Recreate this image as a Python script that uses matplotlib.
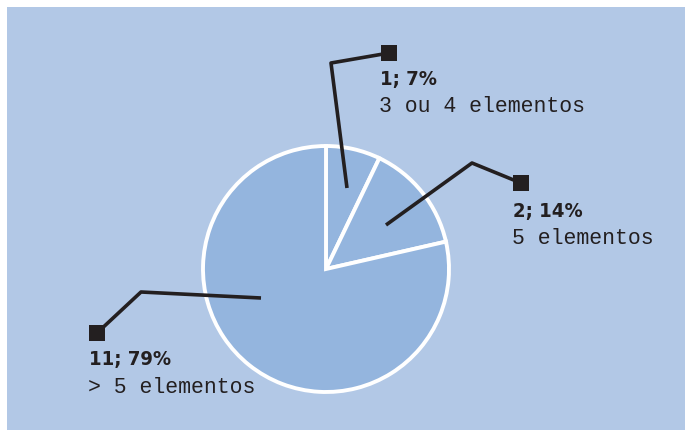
import matplotlib.pyplot as plt
from matplotlib.patches import Rectangle

# Quantidade de produtos por número de elementos
counts = [1, 2, 11]
percents = [7, 14, 79]
descriptions = ['3 ou 4 elementos', '5 elementos', '> 5 elementos']

W, H = 685, 431
bg = '#b2c8e6'
pie_color = '#94b5de'
ink = '#231f20'

fig = plt.figure(figsize=(W / 100, H / 100), dpi=100)
fig.patch.set_facecolor('white')
ax = fig.add_axes([0, 0, 1, 1])


def py(y):
    # pixel row -> data y
    return H - y


ax.add_patch(Rectangle((7, 0), W - 7, H - 8, facecolor=bg, edgecolor='none', zorder=0))

ax.pie(counts, colors=[pie_color] * 3, startangle=90, counterclock=False,
       center=(326, py(270)), radius=123, frame=True,
       wedgeprops=dict(edgecolor='white', linewidth=2.8))
ax.set_xlim(0, W)
ax.set_ylim(0, H)
ax.set_aspect('equal')
ax.axis('off')

# leader lines: (inner end, elbow, square), label position
leaders = [
    ([(347, 189), (331, 64), (389, 54)], (380, 79)),
    ([(386, 226), (472, 164), (521, 184)], (513, 211)),
    ([(261, 299), (141, 293), (97, 334)], (89, 360)),
]

for (pts, (lx, ly)), n, p, desc in zip(leaders, counts, percents, descriptions):
    xs = [x for x, _ in pts]
    ys = [py(y) for _, y in pts]
    ax.plot(xs, ys, color=ink, lw=2.6, solid_capstyle='butt', zorder=5)
    sx, sy = pts[-1]
    ax.add_patch(Rectangle((sx - 8, py(sy) - 8), 16, 16, facecolor=ink,
                           edgecolor='none', zorder=6))
    ax.text(lx, py(ly), f'{n}; {p}%', fontsize=14.5, fontweight='bold',
            fontstretch='condensed', family='DejaVu Sans', color=ink,
            ha='left', va='center')
    ax.text(lx - 1, py(ly + 28), desc, fontsize=15.5, family='Liberation Mono',
            color=ink, ha='left', va='center')

fig.savefig('out.png', dpi=100, facecolor=fig.get_facecolor())
